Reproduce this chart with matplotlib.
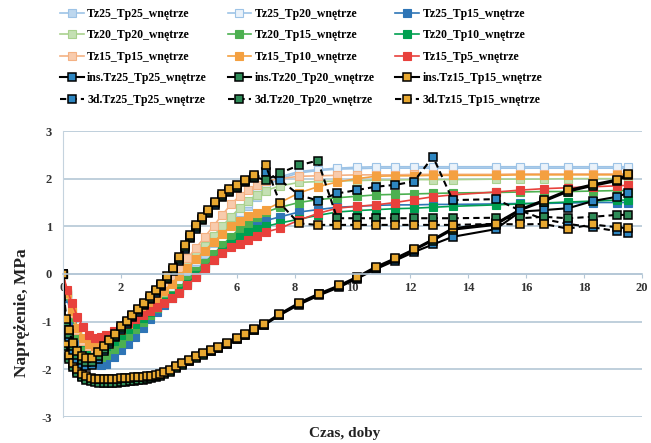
import matplotlib
matplotlib.use('Agg')
import matplotlib.pyplot as plt

plt.rcParams['font.family'] = ['Liberation Serif', 'DejaVu Serif']
plt.rcParams['font.weight'] = 'bold'
plt.rcParams['axes.unicode_minus'] = False

# czas, doby
tc = [0, 0.15, 0.3, 0.5, 0.7, 0.9, 1.1, 1.3, 1.5, 1.75,
      2.0, 2.25, 2.5, 2.75, 3.0, 3.25, 3.5, 3.75, 4.0,
      4.3, 4.6, 4.9, 5.2, 5.5, 5.8, 6.1, 6.4, 6.7, 7.0,
      7.5, 8.15, 8.8, 9.47, 10.15, 10.8, 11.47, 12.12, 12.78, 13.46,
      14.94, 15.8, 16.6, 17.45, 18.3, 19.13, 19.52]
ti = [0, 0.1, 0.2, 0.35, 0.5, 0.65, 0.8, 0.95, 1.1, 1.25,
      1.4, 1.55, 1.7, 1.85, 2.0, 2.15, 2.3, 2.45, 2.6, 2.75,
      2.9, 3.05, 3.2, 3.35, 3.5, 3.7, 3.9, 4.1, 4.35, 4.6,
      4.85, 5.1, 5.35, 5.65, 6.0, 6.3, 6.6, 6.96, 7.47, 8.16,
      8.84, 9.53, 10.15, 10.8, 11.47, 12.12, 12.78, 13.46, 14.94, 15.8,
      16.6, 17.45, 18.3, 19.13, 19.52]
t3 = [0, 0.1, 0.2, 0.35, 0.5, 0.65, 0.8,
      1.0, 1.2, 1.4, 1.6, 1.8, 2.0, 2.2, 2.4, 2.6, 2.8, 3.0,
      3.2, 3.4, 3.6, 3.8, 4.0, 4.2, 4.4, 4.6, 4.8, 5.0,
      5.25, 5.5, 5.75, 6.0, 6.3, 6.6, 7.0,
      7.5, 8.15, 8.8, 9.47, 10.15, 10.8, 11.47, 12.12, 12.78, 13.46,
      14.94, 15.8, 16.6, 17.45, 18.3, 19.13, 19.52]

# naprezenie, MPa
tz25_tp25 = [0, -0.5, -0.95, -1.35, -1.6, -1.76, -1.83, -1.85, -1.78, -1.62,
             -1.45, -1.3, -1.15, -1.0, -0.85, -0.69, -0.52, -0.36, -0.2,
             0.0, 0.21, 0.43, 0.64, 0.86, 1.06, 1.24, 1.42, 1.62, 1.85,
             2.0, 2.12, 2.17, 2.2, 2.21, 2.22, 2.22, 2.22, 2.22, 2.22,
             2.22, 2.22, 2.22, 2.22, 2.22, 2.22, 2.22]
tz25_tp20 = [0, -0.45, -0.9, -1.3, -1.55, -1.71, -1.78, -1.8, -1.73, -1.58,
             -1.41, -1.26, -1.1, -0.95, -0.8, -0.64, -0.47, -0.31, -0.15,
             0.06, 0.27, 0.48, 0.69, 0.91, 1.12, 1.3, 1.5, 1.7, 1.9,
             2.04, 2.15, 2.19, 2.22, 2.24, 2.25, 2.25, 2.25, 2.25, 2.25,
             2.25, 2.25, 2.25, 2.25, 2.25, 2.25, 2.25]
tz25_tp15 = [0, -0.5, -0.98, -1.4, -1.65, -1.8, -1.87, -1.9, -1.88, -1.75,
             -1.6, -1.46, -1.32, -1.13, -0.95, -0.8, -0.65, -0.5, -0.35,
             -0.17, 0.01, 0.19, 0.36, 0.53, 0.69, 0.85, 0.97, 1.05, 1.12,
             1.2, 1.3, 1.35, 1.4, 1.42, 1.44, 1.45, 1.45, 1.46, 1.46,
             1.47, 1.48, 1.48, 1.49, 1.5, 1.5, 1.5]
tz20_tp20 = [0, -0.45, -0.88, -1.25, -1.5, -1.64, -1.7, -1.69, -1.6, -1.45,
             -1.3, -1.15, -1.0, -0.85, -0.7, -0.54, -0.38, -0.21, -0.05,
             0.16, 0.37, 0.58, 0.8, 1.0, 1.2, 1.38, 1.53, 1.65, 1.75,
             1.85, 1.92, 1.94, 1.95, 1.96, 1.97, 1.97, 1.98, 1.98, 1.98,
             1.99, 1.99, 1.99, 2.0, 2.0, 2.0, 2.0]
tz20_tp15 = [0, -0.45, -0.9, -1.28, -1.52, -1.67, -1.74, -1.75, -1.7, -1.58,
             -1.45, -1.3, -1.15, -1.0, -0.85, -0.71, -0.57, -0.44, -0.3,
             -0.12, 0.06, 0.24, 0.42, 0.6, 0.78, 0.95, 1.08, 1.2, 1.3,
             1.4, 1.5, 1.56, 1.6, 1.63, 1.66, 1.67, 1.68, 1.69, 1.7,
             1.71, 1.72, 1.73, 1.73, 1.74, 1.75, 1.75]
tz20_tp10 = [0, -0.4, -0.8, -1.18, -1.42, -1.55, -1.6, -1.59, -1.52, -1.4,
             -1.28, -1.16, -1.04, -0.92, -0.8, -0.69, -0.58, -0.47, -0.35,
             -0.2, -0.03, 0.13, 0.3, 0.47, 0.63, 0.78, 0.88, 0.95, 1.0,
             1.07, 1.15, 1.23, 1.3, 1.33, 1.35, 1.37, 1.38, 1.4, 1.42,
             1.45, 1.47, 1.49, 1.51, 1.53, 1.55, 1.55]
tz15_tp15 = [0, -0.42, -0.82, -1.18, -1.4, -1.52, -1.55, -1.52, -1.44, -1.3,
             -1.15, -1.0, -0.85, -0.7, -0.55, -0.39, -0.22, -0.06, 0.1,
             0.33, 0.55, 0.78, 1.01, 1.24, 1.46, 1.64, 1.77, 1.87, 1.95,
             2.0, 2.05, 2.06, 2.07, 2.08, 2.08, 2.08, 2.09, 2.09, 2.09,
             2.09, 2.1, 2.1, 2.1, 2.1, 2.1, 2.1]
tz15_tp10 = [0, -0.4, -0.78, -1.13, -1.35, -1.47, -1.5, -1.48, -1.42, -1.3,
             -1.17, -1.04, -0.91, -0.78, -0.65, -0.5, -0.35, -0.2, -0.05,
             0.13, 0.31, 0.49, 0.67, 0.84, 1.0, 1.12, 1.21, 1.28, 1.35,
             1.5, 1.7, 1.83, 1.93, 2.0, 2.05, 2.06, 2.06, 2.07, 2.07,
             2.07, 2.08, 2.08, 2.08, 2.08, 2.08, 2.08]
tz15_tp5 = [0, -0.34, -0.6, -0.9, -1.12, -1.28, -1.35, -1.33, -1.28, -1.2,
            -1.1, -1.02, -0.94, -0.86, -0.78, -0.69, -0.6, -0.5, -0.4,
            -0.24, -0.06, 0.12, 0.3, 0.45, 0.56, 0.63, 0.71, 0.8, 0.88,
            0.96, 1.13, 1.27, 1.38, 1.42, 1.45, 1.5, 1.56, 1.62, 1.66,
            1.72, 1.76, 1.79, 1.81, 1.83, 1.85, 1.86]

ins_tz25_tp25 = [0, -1.48, -1.74, -1.91, -2.04, -2.13, -2.19, -2.22, -2.24, -2.25,
                 -2.25, -2.25, -2.24, -2.24, -2.23, -2.22, -2.21, -2.2, -2.2, -2.19,
                 -2.18, -2.16, -2.14, -2.11, -2.08, -2.03, -1.96, -1.89, -1.82, -1.75,
                 -1.68, -1.62, -1.55, -1.47, -1.37, -1.28, -1.18, -1.07, -0.87, -0.64,
                 -0.45, -0.28, -0.1, 0.1, 0.28, 0.46, 0.62, 0.78, 0.94, 1.31,
                 1.34, 1.38, 1.53, 1.62, 1.7]
ins_tz20_tp20 = [0, -1.5, -1.78, -1.95, -2.08, -2.17, -2.22, -2.25, -2.27, -2.28,
                 -2.29, -2.29, -2.28, -2.28, -2.27, -2.26, -2.25, -2.24, -2.23, -2.22,
                 -2.2, -2.18, -2.16, -2.13, -2.1, -2.05, -1.98, -1.9, -1.83, -1.76,
                 -1.69, -1.62, -1.55, -1.47, -1.36, -1.27, -1.17, -1.06, -0.86, -0.62,
                 -0.43, -0.26, -0.08, 0.13, 0.31, 0.5, 0.7, 0.93, 1.03, 1.34,
                 1.52, 1.73, 1.85, 1.95, 2.07]
ins_tz15_tp15 = [0, -1.45, -1.7, -1.87, -2.0, -2.1, -2.15, -2.18, -2.2, -2.21,
                 -2.21, -2.21, -2.2, -2.2, -2.19, -2.19, -2.18, -2.17, -2.17, -2.16,
                 -2.15, -2.14, -2.12, -2.09, -2.06, -2.01, -1.94, -1.87, -1.8, -1.73,
                 -1.66, -1.6, -1.53, -1.45, -1.34, -1.25, -1.15, -1.04, -0.84, -0.6,
                 -0.41, -0.24, -0.06, 0.15, 0.33, 0.52, 0.73, 0.96, 1.06, 1.36,
                 1.55, 1.76, 1.88, 1.98, 2.1]

d3_tz25_tp25 = [0, -1.05, -1.32, -1.6, -1.78, -1.88, -1.92,
                -1.9, -1.78, -1.62, -1.47, -1.33, -1.17, -1.04, -0.91, -0.79, -0.66, -0.53,
                -0.39, -0.26, -0.11, 0.06, 0.28, 0.53, 0.75, 0.95, 1.13, 1.28,
                1.45, 1.61, 1.72, 1.8, 1.92, 2.01, 2.13,
                1.97, 1.66, 1.54, 1.69, 1.76, 1.83, 1.87, 1.94, 2.46, 1.55,
                1.57, 1.33, 1.15, 1.05, 0.98, 0.9, 0.85]
d3_tz20_tp20 = [0, -1.0, -1.25, -1.52, -1.7, -1.8, -1.85,
                -1.84, -1.72, -1.57, -1.43, -1.3, -1.14, -1.01, -0.88, -0.76, -0.63, -0.5,
                -0.36, -0.23, -0.08, 0.09, 0.31, 0.56, 0.78, 0.98, 1.16, 1.31,
                1.48, 1.64, 1.75, 1.83, 1.95, 2.04, 1.97,
                2.12, 2.28, 2.38, 1.17, 1.17, 1.17, 1.17, 1.17, 1.17, 1.17,
                1.18, 1.17, 1.2, 1.17, 1.2, 1.24, 1.24]
d3_tz15_tp15 = [0, -0.95, -1.18, -1.45, -1.62, -1.72, -1.77,
                -1.76, -1.64, -1.5, -1.38, -1.26, -1.1, -0.98, -0.85, -0.73, -0.6, -0.47,
                -0.33, -0.2, -0.05, 0.12, 0.35, 0.6, 0.82, 1.02, 1.2, 1.35,
                1.52, 1.68, 1.78, 1.86, 1.98, 2.08, 2.28,
                1.48, 1.06, 1.03, 1.03, 1.03, 1.03, 1.03, 1.03, 1.03, 1.03,
                1.05, 1.04, 1.05, 0.95, 1.04, 0.98, 0.96]

fig = plt.figure(figsize=(6.51, 4.43), dpi=100)
ax = fig.add_axes([63 / 651, 1 - 417 / 443, 579 / 651, 286 / 443])

# serie barwne (cienka linia + kwadrat)
kolorowe = [
    (tz25_tp25, 'Tz25_Tp25_wnętrze', '#9DC3E6', '#BDD7EE'),
    (tz25_tp20, 'Tz25_Tp20_wnętrze', '#9DC3E6', '#EAF2FA'),
    (tz25_tp15, 'Tz25_Tp15_wnętrze', '#2E75B6', '#2E75B6'),
    (tz20_tp20, 'Tz20_Tp20_wnętrze', '#A9D18E', '#C5E0B4'),
    (tz20_tp15, 'Tz20_Tp15_wnętrze', '#4CB050', '#4CB050'),
    (tz20_tp10, 'Tz20_Tp10_wnętrze', '#00A050', '#00A050'),
    (tz15_tp15, 'Tz15_Tp15_wnętrze', '#F4B183', '#F8CBAD'),
    (tz15_tp10, 'Tz15_Tp10_wnętrze', '#F4A040', '#F4A040'),
    (tz15_tp5, 'Tz15_Tp5_wnętrze', '#E8413C', '#E8413C'),
]
handles = []
for y, lab, kol, wyp in kolorowe:
    h, = ax.plot(tc, y, '-', color=kol, lw=1.2, marker='s', ms=5.5,
                 mfc=wyp, mec=kol, mew=0.8, label=lab)
    handles.append(h)

czarne = [
    (ti, ins_tz25_tp25, 'ins.Tz25_Tp25_wnętrze', '#2E86C1', '-'),
    (ti, ins_tz20_tp20, 'ins.Tz20_Tp20_wnętrze', '#2E8B57', '-'),
    (ti, ins_tz15_tp15, 'ins.Tz15_Tp15_wnętrze', '#E8A830', '-'),
    (t3, d3_tz25_tp25, '3d.Tz25_Tp25_wnętrze', '#2E86C1', '--'),
    (t3, d3_tz20_tp20, '3d.Tz20_Tp20_wnętrze', '#2E8B57', '--'),
    (t3, d3_tz15_tp15, '3d.Tz15_Tp15_wnętrze', '#E8A830', '--'),
]
for x, y, lab, kol, ls in czarne:
    h, = ax.plot(x, y, ls, color='black', lw=1.5, marker='s', ms=6,
                 mfc=kol, mec='black', mew=1.1, label=lab)
    if ls == '--':
        h.set_dashes([3, 2])
    handles.append(h)

ax.set_xlim(0, 20)
ax.set_ylim(-3, 3)
ax.set_xticks(range(0, 21, 2))
ax.set_yticks(range(-3, 4))
ax.yaxis.grid(True, color='#B4C7D6', lw=1.2)
ax.set_axisbelow(True)
for s in ['top', 'right']:
    ax.spines[s].set_visible(False)
ax.spines['left'].set_color('#C5D3DE')
ax.spines['bottom'].set_position(('data', 0))
ax.spines['bottom'].set_color('#B4C7D6')
ax.spines['bottom'].set_linewidth(1.2)
ax.tick_params(axis='x', length=3, color='#B4C7D6', labelsize=9, pad=3, labelcolor='#333333')
ax.tick_params(axis='y', length=0, labelsize=9, pad=8, labelcolor='#333333')

fig.text(22 / 651, 1 - 313 / 443, 'Naprężenie, MPa', rotation=90, ha='center', va='center',
         fontsize=12.5, color='#222222')
fig.text(345 / 651, 1 - 433 / 443, 'Czas, doby', ha='center', va='center',
         fontsize=11, color='#222222')

kolejnosc = [0, 3, 6, 9, 12, 1, 4, 7, 10, 13, 2, 5, 8, 11, 14]
fig.legend([handles[i] for i in kolejnosc], [handles[i].get_label() for i in kolejnosc],
           ncol=3, loc='upper left', bbox_to_anchor=(60 / 651, 1 - 8 / 443),
           frameon=False, fontsize=8.5, handlelength=2.0, handletextpad=0.3,
           columnspacing=1.75, labelspacing=0.8, borderpad=0, borderaxespad=0)

fig.savefig('out.png', dpi=100)
